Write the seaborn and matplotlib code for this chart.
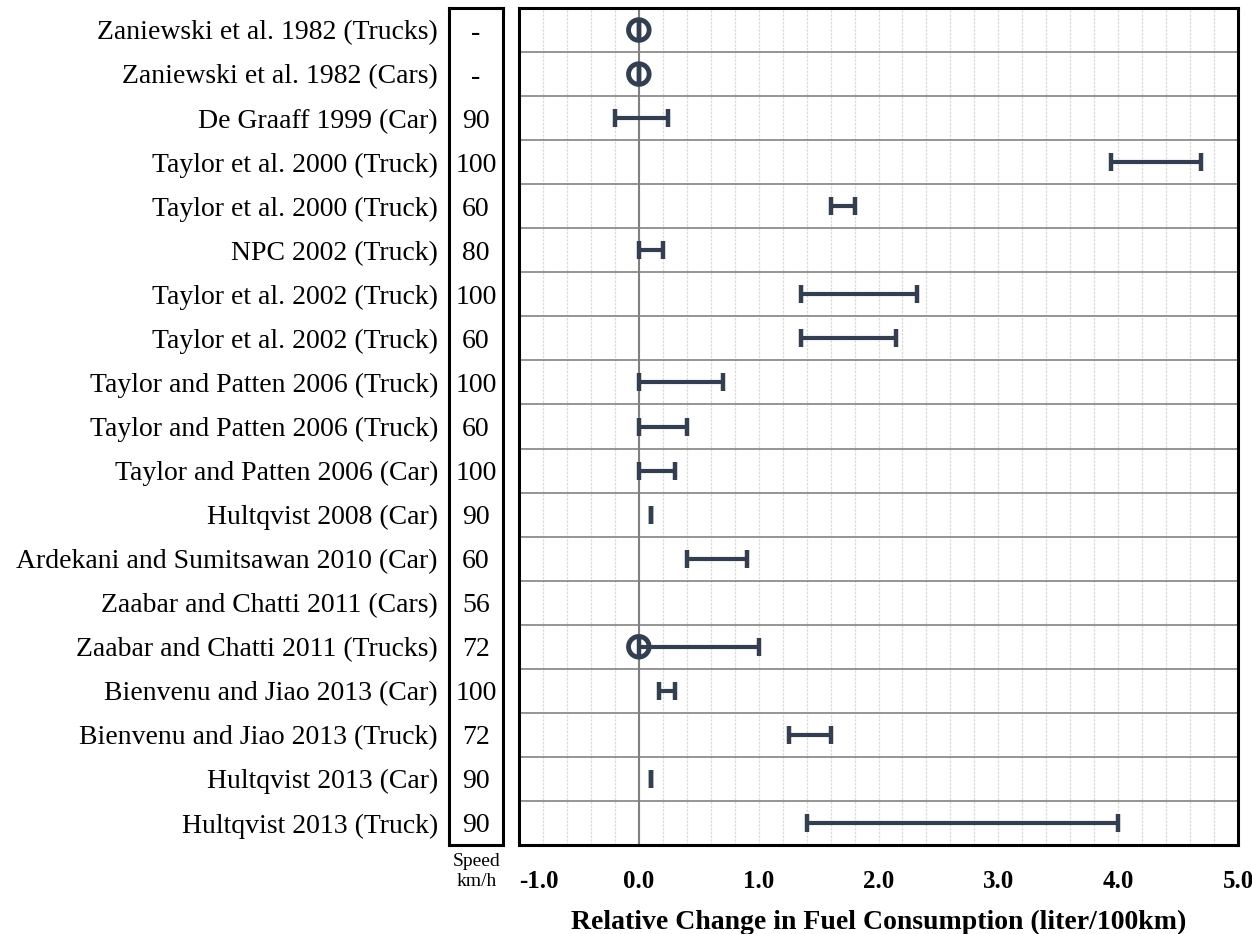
import numpy as np
import pandas as pd
import matplotlib
matplotlib.use("Agg")
import matplotlib.pyplot as plt
import seaborn as sns
from matplotlib.ticker import MultipleLocator

studies = [
    "Zaniewski et al. 1982 (Trucks)", "Zaniewski et al. 1982 (Cars)", "De Graaff 1999 (Car)",
    "Taylor et al. 2000 (Truck)", "Taylor et al. 2000 (Truck)", "NPC 2002 (Truck)",
    "Taylor et al. 2002 (Truck)", "Taylor et al. 2002 (Truck)", "Taylor and Patten 2006 (Truck)",
    "Taylor and Patten 2006 (Truck)", "Taylor and Patten 2006 (Car)", "Hultqvist 2008 (Car)",
    "Ardekani and Sumitsawan 2010 (Car)", "Zaabar and Chatti 2011 (Cars)", "Zaabar and Chatti 2011 (Trucks)",
    "Bienvenu and Jiao 2013 (Car)", "Bienvenu and Jiao 2013 (Truck)", "Hultqvist 2013 (Car)",
    "Hultqvist 2013 (Truck)",
]
speeds = ["-", "-", "90", "100", "60", "80", "100", "60", "100", "60", "100", "90", "60", "56",
          "72", "100", "72", "90", "90"]
low = [0.0, 0.0, -0.2, 3.94, 1.6, 0.0, 1.35, 1.35, 0.0, 0.0, 0.0, 0.1, 0.4, np.nan, 0.0,
       0.17, 1.25, 0.1, 1.4]
high = [0.0, 0.0, 0.24, 4.69, 1.8, 0.2, 2.32, 2.15, 0.7, 0.4, 0.3, 0.1, 0.9, np.nan, 1.0,
        0.3, 1.6, 0.1, 4.0]
circle = [True, True, False, False, False, False, False, False, False, False, False, False,
          False, False, True, False, False, False, False]
xticks = [-1.0, 0.0, 1.0, 2.0, 3.0, 4.0, 5.0]

df = pd.DataFrame({"study": studies, "speed": speeds, "low": low, "high": high, "circle": circle})
df["row"] = np.arange(len(df))
df["mid"] = (df["low"] + df["high"]) / 2
df["half"] = (df["high"] - df["low"]) / 2

sns.set_theme(style="white")
plt.rcParams["font.family"] = ["Liberation Serif", "DejaVu Serif"]
plt.rcParams["text.color"] = "black"
plt.rcParams["xtick.color"] = "black"
plt.rcParams["ytick.color"] = "black"
plt.rcParams["axes.labelcolor"] = "black"

W, H = 1252, 934
fig = plt.figure(figsize=(W / 100, H / 100), dpi=100)
ax = fig.add_axes([519 / W, 1 - 845 / H, (1238 - 519) / W, (845 - 8) / H])
axs = fig.add_axes([449 / W, 1 - 845 / H, (503 - 449) / W, (845 - 8) / H], sharey=ax)

col = "#333e50"
n = len(df)

# grid
ax.set_xlim(-1, 5)
ax.set_ylim(n - 0.5, -0.5)
ax.xaxis.set_minor_locator(MultipleLocator(0.2))
ax.grid(which="both", axis="x", color="#dadada", linestyle=(0, (2, 1)), linewidth=0.9)
for yy in np.arange(0.5, n - 0.5, 1):
    ax.axhline(yy, color="#8c8c8c", linewidth=1.3, zorder=1)
ax.axvline(0, color="#808080", linewidth=1.5, zorder=1)

rng = df.dropna(subset=["low"])
ax.errorbar(rng["mid"], rng["row"], xerr=rng["half"], fmt="none", ecolor=col,
            elinewidth=3, capsize=6.5, capthick=3.2, zorder=3)
sns.scatterplot(data=df[df["circle"]], x="low", y="row", ax=ax, marker="o", s=220,
                facecolor="none", edgecolor=col, linewidth=3.5, zorder=4, legend=False)

ax.set_xticks(xticks)
ax.set_xticklabels([f"{t:.1f}" for t in xticks], fontweight="bold", fontsize=18)
ax.get_xticklabels()[0].set_horizontalalignment("left")
ax.tick_params(axis="x", which="both", length=0, pad=18)
ax.tick_params(axis="y", left=False, labelleft=False)
ax.set_xlabel("Relative Change in Fuel Consumption (liter/100km)", fontweight="bold",
              fontsize=20, labelpad=12)
ax.set_ylabel("")
for s in ax.spines.values():
    s.set_linewidth(2.2)
    s.set_color("black")

# speed column
axs.set_xlim(0, 1)
axs.set_xticks([])
axs.set_yticks(df["row"])
axs.set_yticklabels(df["study"], fontsize=20)
axs.tick_params(axis="y", length=0, pad=8)
for r, sp in zip(df["row"], df["speed"]):
    axs.text(0.5, r, sp, ha="center", va="center_baseline", fontsize=20)
for s in axs.spines.values():
    s.set_linewidth(2.2)
    s.set_color("black")
axs.set_facecolor("white")
fig.text(477 / W, 1 - 861 / H, "Speed", ha="center", va="center", fontsize=14)
fig.text(477 / W, 1 - 882 / H, "km/h", ha="center", va="center", fontsize=14)

fig.savefig("out.png", dpi=100, facecolor="white")
